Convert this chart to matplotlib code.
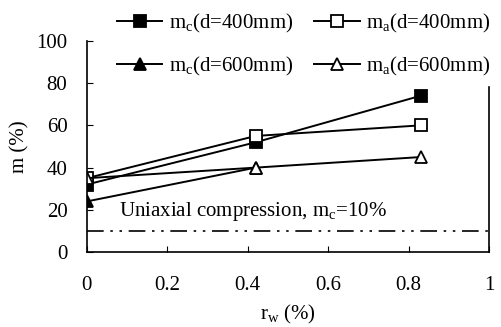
import matplotlib
matplotlib.use("Agg")
import matplotlib.pyplot as plt

plt.rcParams['font.family'] = ['Liberation Serif', 'DejaVu Serif']
plt.rcParams['mathtext.fontset'] = 'custom'
plt.rcParams['mathtext.rm'] = 'Liberation Serif'
plt.rcParams['mathtext.it'] = 'Liberation Serif'

rw = [0, 0.42, 0.83]
mc_400 = [32, 52, 74]
ma_400 = [35, 55, 60]
rw_mc600 = [0, 0.42]
mc_600 = [24, 40]
ma_600 = [35, 40, 45]
uniaxial = 10

fig = plt.figure(figsize=(5.02, 3.27), dpi=100)
ax = fig.add_axes([0.173, 0.229, 0.801, 0.646])

kw = dict(color='black', linewidth=1.4, markersize=9, markeredgewidth=1.3)
l1, = ax.plot(rw, mc_400, marker='s', markerfacecolor='black', label=r'm$_\mathrm{c}$(d=400mm)', **kw)
l2, = ax.plot(rw, ma_400, marker='s', markerfacecolor='white', label=r'm$_\mathrm{a}$(d=400mm)', **kw)
l3, = ax.plot(rw_mc600, mc_600, marker='^', markerfacecolor='black', label=r'm$_\mathrm{c}$(d=600mm)', **kw)
l4, = ax.plot(rw, ma_600, marker='^', markerfacecolor='white', label=r'm$_\mathrm{a}$(d=600mm)', **kw)

ax.axhline(uniaxial, color='black', linewidth=1.2, linestyle=(0, (10, 4, 1.5, 4, 1.5, 4)))
ax.text(0.08, 19, r'Uniaxial compression, m$_\mathrm{c}$=10%', fontsize=15, va='center')

ax.set_xlim(0, 1)
ax.set_ylim(0, 100)
ax.set_xticks([0, 0.2, 0.4, 0.6, 0.8, 1])
ax.set_xticklabels(['0', '0.2', '0.4', '0.6', '0.8', '1'])
ax.set_yticks([0, 20, 40, 60, 80, 100])
ax.tick_params(direction='in', length=4, labelsize=15)
ax.tick_params(axis='x', pad=17)
ax.tick_params(axis='y', pad=14)
ax.spines['top'].set_visible(False)
ax.spines['right'].set_bounds(0, 78)
for s in ax.spines.values():
    s.set_linewidth(1.2)

ax.set_xlabel(r'r$_\mathrm{w}$ (%)', fontsize=15, labelpad=6)
ax.set_ylabel('m (%)', fontsize=15, labelpad=5)

fig.legend(handles=[l1, l3, l2, l4], loc='upper left', bbox_to_anchor=(0.195, 1.02), ncol=2,
           frameon=False, fontsize=15, handlelength=2.2, columnspacing=1.0,
           labelspacing=0.95, handletextpad=0.3)

fig.savefig('out.png', dpi=100)
